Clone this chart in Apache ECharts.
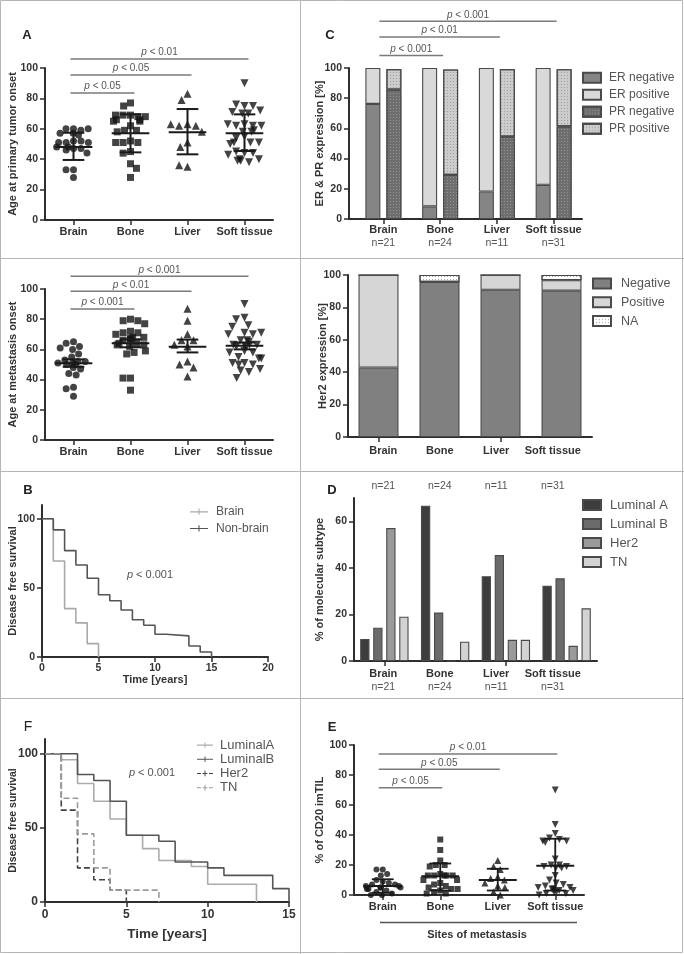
<!DOCTYPE html>
<html><head><meta charset="utf-8">
<script src="https://cdn.jsdelivr.net/npm/echarts@6/dist/echarts.min.js"></script>
<style>html,body{margin:0;padding:0;background:#fff;}#chart{width:684px;height:954px;}</style>
</head><body><div id="chart"></div>
<script>
// ---------- categories / ticks ----------
const sites = ['Brain', 'Bone', 'Liver', 'Soft tissue'];
const siteCounts = ['n=21', 'n=24', 'n=11', 'n=31'];
const pctTicks = [0, 20, 40, 60, 80, 100];
const survTicks = [0, 50, 100];
const subtypeTicks = [0, 20, 40, 60];

// ---------- A (top): age at primary tumor onset ----------
const primaryBrain = [60,60,59,60,57,56,57,52,51,52,51,51,48,47,48,47,46,44,33,33,28];
const primaryBone  = [77,75,69,69,68,68,69,66,65,65,66,62,59,59,58,52,51,51,51,45,44,37,34,28];
const primaryLiver = [83,79,63,62,62,63,58,51,48,35,36];
const primarySoft  = [90,75,76,75,71,70,72,70,63,62,62,63,62,58,59,58,55,54,51,51,50,51,44,45,44,43,40,39,39,40,38];
const primaryMean = [48, 57, 57.7, 57];
const primaryLow  = [39.5, 44.5, 43.2, 45.4];
const primaryHigh = [57.4, 69.5, 73, 69.5];
const primarySigY = [83.6, 95.4, 105.9];
const primarySigP = ['0.05', '0.05', '0.01'];

// ---------- A (bottom): age at metastasis onset ----------
const metBrain = [65,64,62,61,60,57,55,53,52,52,51,51,50,50,48,47,44,43,35,34,29];
const metBone  = [80,79,79,77,72,71,71,70,68,67,67,68,66,64,63,63,62,64,58,57,59,41,41,33];
const metLiver = [87,79,70,66,66,63,62,52,50,48,42];
const metSoft  = [90,81,80,76,75,71,70,71,70,66,66,65,63,63,62,62,63,59,58,58,55,54,54,51,50,51,50,47,46,45,41];
const metMean = [50.8, 64, 61.8, 62.5];
const metLow  = [48.5, 61.4, 58, 60];
const metHigh = [53.4, 66.7, 66.5, 64.6];
const metSigY = [86.8, 98.5, 108.4];
const metSigP = ['0.001', '0.01', '0.001'];

// ---------- C: ER & PR expression ----------
const erNeg = [76.2, 8.3, 18.2, 22.6];
const erPos = [23.8, 91.7, 81.8, 77.4];
const prNeg = [85.7, 29.2, 54.5, 61.3];
const prPos = [13.6, 69.8, 44.8, 37.9];
const erprSigY = [108.3, 120.5, 130.9];
const erprSigP = ['0.001', '0.01', '0.001'];

// ---------- Her2 expression ----------
const her2Neg = [42.9, 95.8, 90.9, 90.3];
const her2Pos = [57.1, 0, 9.1, 6.5];
const her2NA  = [0, 4.2, 0, 3.2];

// ---------- B: disease free survival, brain vs non-brain ----------
const brainT = [0, 1, 2, 3, 4, 5];
const brainS = [100, 69.5, 35, 24.7, 9.7, 0];
const nonBrainT = [0, 1, 2, 3, 4, 5, 6, 7, 8, 9, 10, 11, 13, 14, 15];
const nonBrainS = [100, 92, 77, 66.6, 57, 45, 40.7, 34, 27, 23, 16.5, 15.3, 8, 3.6, 0];

// ---------- D: molecular subtype ----------
const lumA = [9.5, 66.7, 36.4, 32.3];
const lumB = [14.3, 20.8, 45.5, 35.5];
const her2Sub = [57.1, 0, 9.1, 6.5];
const tnSub = [19, 8.3, 9.1, 22.6];

// ---------- F: disease free survival by subtype ----------
const lumAT = [0, 1, 2, 3, 4, 5, 6, 7, 9, 10, 13];
const lumAS = [100, 96, 80, 68, 56, 45, 36, 28, 24, 12, 0];
const lumBT = [0, 2, 3, 4, 5, 7, 8, 10, 11, 14, 15];
const lumBS = [100, 86, 82, 68, 45, 41, 27, 23, 18, 9, 0];
const her2KmT = [0, 1, 2, 3, 4, 5];
const her2KmS = [100, 62, 23, 15, 8, 0];
const tnKmT = [0, 1, 2, 3, 4, 7];
const tnKmS = [100, 70, 46, 23, 8, 0];

// ---------- E: CD20 imTIL ----------
const cd20Brain = [17,17,14,13,10,9,8,7,7,6,6,5,5,5,4,4,3,2,1,0,0];
const cd20Bone  = [37,30,23,20,20,19,14,13,13,13,13,13,10,10,8,7,6,5,4,4,3,2,1,1];
const cd20Liver = [23,19,17,12,11,10,8,6,5,2,0];
const cd20Soft  = [70,47,41,38,37,36,36,35,24,20,20,19,19,18,18,13,10,8,7,6,5,5,4,4,3,3,2,2,1,1,0];
const cd20Mean = [6, 12.5, 10, 19.5];
const cd20Low  = [1.5, 3, 3, 3];
const cd20High = [10.5, 21, 17.5, 37.5];
const cd20SigY = [71.5, 83.8, 94];
const cd20SigP = ['0.05', '0.05', '0.01'];

// ================= styling helpers =================
const FF = '"Liberation Sans", Arial, Helvetica, sans-serif';
const TXT = '#333';
const AX = '#2e2e2e';
const GRAY = '#555';
const axisLineS = {show: true, lineStyle: {color: AX, width: 2}};
const tickS = {show: true, length: 5, lineStyle: {color: AX, width: 1.5}};
const tickLbl = {color: TXT, fontSize: 10.5, fontWeight: 'bold', fontFamily: FF, margin: 7};
const catLbl = {color: TXT, fontSize: 11, fontWeight: 'bold', fontFamily: FF, margin: 6, interval: 0};
const nameStyle = (size) => ({fontWeight: 'bold', fontSize: size, color: TXT, fontFamily: FF});

function catX(gi, extra) {
  return Object.assign({gridIndex: gi, type: 'category', data: sites, axisLine: axisLineS,
    axisTick: Object.assign({}, tickS, {alignWithLabel: true}), axisLabel: catLbl,
    splitLine: {show: false}}, extra || {});
}
function valY(gi, min, max, ticks, name, gap, size, lblExtra) {
  return {gridIndex: gi, type: 'value', min: min, max: max,
    axisLine: axisLineS, axisTick: Object.assign({}, tickS, {customValues: ticks}),
    axisLabel: Object.assign({}, tickLbl, {customValues: ticks}, lblExtra || {}),
    splitLine: {show: false}, name: name, nameLocation: 'middle', nameRotate: 90,
    nameGap: gap, nameMoveOverlap: false, nameTextStyle: nameStyle(size)};
}
function hiddenY(gi) { return {gridIndex: gi, type: 'value', min: 0, max: 100, show: false}; }

function scat(xi, yi, gi, vals, symbol, size, rot) {
  return {type: 'scatter', xAxisIndex: xi, yAxisIndex: yi, silent: true, z: 2,
    data: vals.map(v => [gi, v]), symbol: symbol, symbolSize: size, symbolRotate: rot || 0,
    itemStyle: {color: '#141414'}};
}
function errSeries(xi, yi, means, lows, highs, lw) {
  return {type: 'custom', xAxisIndex: xi, yAxisIndex: yi, silent: true, z: 4,
    encode: {x: 0, y: [1, 2, 3]},
    data: means.map((m, i) => [i, m, lows[i], highs[i]]),
    renderItem: function (params, api) {
      const bw = api.size([1, 0])[0];
      const x = api.value(0);
      const pm = api.coord([x, api.value(1)]), pl = api.coord([x, api.value(2)]), ph = api.coord([x, api.value(3)]);
      const w1 = bw * 0.33, w2 = bw * 0.19;
      const st = {stroke: '#1a1a1a', lineWidth: lw};
      return {type: 'group', children: [
        {type: 'line', shape: {x1: pm[0] - w1, y1: pm[1], x2: pm[0] + w1, y2: pm[1]}, style: st},
        {type: 'line', shape: {x1: pl[0], y1: pl[1], x2: ph[0], y2: ph[1]}, style: st},
        {type: 'line', shape: {x1: pl[0] - w2, y1: pl[1], x2: pl[0] + w2, y2: pl[1]}, style: st},
        {type: 'line', shape: {x1: ph[0] - w2, y1: ph[1], x2: ph[0] + w2, y2: ph[1]}, style: st}
      ]};
    }};
}
function sigSeries(xi, yi, ys, ps, padL, padR) {
  return {type: 'custom', xAxisIndex: xi, yAxisIndex: yi, silent: true, z: 5,
    encode: {x: [0, 1], y: 2},
    data: ys.map((y, i) => [0, i + 1, y]),
    renderItem: function (params, api) {
      const a = api.coord([api.value(0), api.value(2)]);
      const b = api.coord([api.value(1), api.value(2)]);
      const x1 = a[0] - padL, x2 = b[0] + padR;
      return {type: 'group', children: [
        {type: 'line', shape: {x1: x1, y1: a[1], x2: x2, y2: a[1]}, style: {stroke: '#7a7a7a', lineWidth: 1.5}},
        {type: 'text', style: {x: (x1 + x2) / 2, y: a[1] - 1.5, text: '{i|p} < ' + ps[params.dataIndex],
          align: 'center', verticalAlign: 'bottom', fontSize: 10, fontFamily: FF, fill: GRAY,
          rich: {i: {fontStyle: 'italic', fontSize: 10, fontFamily: FF, fill: GRAY}}}}
      ]};
    }};
}
function bar(name, xi, yi, stack, vals, color, width, gap, decal) {
  const s = {type: 'bar', name: name, xAxisIndex: xi, yAxisIndex: yi, silent: true,
    data: vals, barWidth: width, barGap: gap,
    itemStyle: {color: color, borderColor: '#4a4a4a', borderWidth: 1.1}};
  if (stack) s.stack = stack;
  if (decal) s.itemStyle.decal = decal;
  return s;
}
function km(xi, yi, name, ts, ss, color, dashed) {
  return {type: 'line', name: name, xAxisIndex: xi, yAxisIndex: yi, step: 'end', symbol: 'none',
    silent: true, z: 3, color: color, data: ts.map((t, i) => [t, ss[i]]),
    itemStyle: {color: color},
    lineStyle: {color: color, width: 1.6, type: dashed ? [6, 3] : 'solid'}};
}
const dots = (c) => ({symbol: 'rect', symbolSize: 1, dashArrayX: [1, 2], dashArrayY: [1, 2], color: c, rotation: 0});
const solidIcon = 'path://M0,3H20V4.3H0Z M9.4,0H10.6V7H9.4Z';
const dashIcon = 'path://M0,3H5V4.3H0Z M7,3H13V4.3H7Z M15,3H20V4.3H15Z M9.4,0H10.6V7H9.4Z';

const twoLine = (i) => '{b|' + sites[i] + '}\n{n|' + siteCounts[i] + '}';
const twoLineRich = {b: {fontWeight: 'bold', fontSize: 11, color: TXT, fontFamily: FF, lineHeight: 13.5},
                     n: {fontSize: 10.5, color: GRAY, fontFamily: FF, lineHeight: 13.5}};
const legendBase = {orient: 'vertical', padding: 0, selectedMode: false};

const option = {
  animation: false,
  textStyle: {fontFamily: FF},
  grid: [
    {left: 45, top: 68, width: 228, height: 152},      // 0 A primary
    {left: 45, top: 289, width: 228, height: 151},     // 1 A metastasis
    {left: 355, top: 68, width: 227, height: 151},     // 2 C bars
    {left: 348, top: 275, width: 244, height: 162},    // 3 Her2
    {left: 355, top: 275, width: 226, height: 162},    // 4 Her2 labels
    {left: 42, top: 505, width: 226, height: 152},     // 5 B
    {left: 354, top: 498, width: 243, height: 163},    // 6 D
    {left: 355, top: 498, width: 226, height: 163},    // 7 D labels
    {left: 45, top: 739, width: 244, height: 163},     // 8 F
    {left: 354, top: 745, width: 230, height: 150},    // 9 E
    {left: 349, top: 68, width: 233, height: 151}      // 10 C axes
  ],
  xAxis: [
    catX(0, {jitter: 34, jitterOverlap: false, jitterMargin: 0.5}),
    catX(1, {jitter: 34, jitterOverlap: false, jitterMargin: 0.5}),
    {gridIndex: 2, type: 'category', data: sites, axisLine: {show: false},
     axisTick: Object.assign({}, tickS, {alignWithLabel: true}),
     axisLabel: {formatter: (v, i) => twoLine(i), rich: twoLineRich, margin: 4, interval: 0}},
    catX(3, {axisLabel: {show: false}}),
    {gridIndex: 4, type: 'category', data: sites, axisLine: {show: false}, axisTick: {show: false},
     axisLabel: Object.assign({}, catLbl, {margin: 8})},
    {gridIndex: 5, type: 'value', min: 0, max: 20, interval: 5, axisLine: axisLineS, axisTick: tickS,
     axisLabel: Object.assign({}, tickLbl, {margin: 6}), splitLine: {show: false},
     name: 'Time [years]', nameLocation: 'middle', nameGap: 15, nameTextStyle: nameStyle(11)},
    catX(6, {axisLabel: {show: false}}),
    {gridIndex: 7, type: 'category', data: sites, axisLine: {show: false}, axisTick: {show: false},
     axisLabel: {formatter: (v, i) => twoLine(i), rich: twoLineRich, margin: 6, interval: 0}},
    {gridIndex: 7, type: 'category', position: 'top', data: siteCounts, axisLine: {show: false}, axisTick: {show: false},
     axisLabel: {fontSize: 10.5, color: GRAY, fontFamily: FF, margin: 6, interval: 0}},
    {gridIndex: 8, type: 'value', min: 0, max: 15, interval: 5, axisLine: axisLineS, axisTick: tickS,
     axisLabel: Object.assign({}, tickLbl, {fontSize: 12, margin: 7}), splitLine: {show: false},
     name: 'Time [years]', nameLocation: 'middle', nameGap: 25, nameTextStyle: nameStyle(13.5)},
    catX(9, {jitter: 36, jitterOverlap: false, jitterMargin: 0.3,
      name: 'Sites of metastasis', nameLocation: 'middle', nameGap: 34,
      nameTextStyle: Object.assign(nameStyle(11), {padding: [0, 0, 0, 16]})}),
    {gridIndex: 10, type: 'value', min: 0, max: 1, axisLine: axisLineS, axisTick: {show: false},
     axisLabel: {show: false}, splitLine: {show: false}}
  ],
  yAxis: [
    valY(0, 0, 100, pctTicks, 'Age at primary tumor onset', 26.5, 11),
    valY(1, 0, 100, pctTicks, 'Age at metastasis onset', 26.5, 11),
    hiddenY(2),
    valY(3, 0, 100, pctTicks, 'Her2 expression [%]', 19.5, 11),
    hiddenY(4),
    valY(5, 0, 110, survTicks, 'Disease free survival', 23.5, 11),
    valY(6, 0, 70, subtypeTicks, '% of molecular subtype', 28.5, 11),
    hiddenY(7),
    valY(8, 0, 110, survTicks, 'Disease free survival', 26.5, 10.5, {fontSize: 12}),
    valY(9, 0, 100, pctTicks, '% of CD20 imTIL', 28.5, 11),
    valY(10, 0, 100, pctTicks, 'ER & PR expression [%]', 23.5, 11)
  ],
  legend: [
    Object.assign({}, legendBase, {left: 582, top: 71.7, itemWidth: 18, itemHeight: 10, itemGap: 5,
     icon: 'rect', textStyle: {fontSize: 12, color: GRAY, fontFamily: FF, padding: [0, 0, 0, 3]},
     data: ['ER negative', 'ER positive', 'PR negative', 'PR positive']}),
    Object.assign({}, legendBase, {left: 592, top: 277, itemWidth: 18, itemHeight: 10, itemGap: 5.8,
     icon: 'rect', textStyle: {fontSize: 12.5, color: GRAY, fontFamily: FF, padding: [0, 0, 0, 5]},
     data: ['Negative', 'Positive', 'NA']}),
    Object.assign({}, legendBase, {left: 190, top: 505.7, itemWidth: 18, itemHeight: 7, itemGap: 4.7,
     textStyle: {fontSize: 12, color: GRAY, fontFamily: FF, padding: [0, 0, 0, 3]},
     data: [{name: 'Brain', icon: solidIcon}, {name: 'Non-brain', icon: solidIcon}]}),
    Object.assign({}, legendBase, {left: 582, top: 498.5, itemWidth: 18, itemHeight: 10, itemGap: 6,
     icon: 'rect', textStyle: {fontSize: 13, color: GRAY, fontFamily: FF, padding: [0, 0, 0, 4]},
     data: ['Luminal A', 'Luminal B', 'Her2', 'TN']}),
    Object.assign({}, legendBase, {left: 197, top: 738.5, itemWidth: 16, itemHeight: 7, itemGap: 1.2,
     textStyle: {fontSize: 13, color: GRAY, fontFamily: FF, padding: [0, 0, 0, 2]},
     data: [{name: 'LuminalA', icon: solidIcon}, {name: 'LuminalB', icon: solidIcon},
            {name: 'Her2', icon: dashIcon, itemStyle: {color: '#444', borderWidth: 0, decal: 'none'}},
            {name: 'TN', icon: dashIcon, itemStyle: {color: '#9a9a9a', borderWidth: 0, decal: 'none'}}]})
  ],
  series: [
    // A primary
    scat(0, 0, 0, primaryBrain, 'circle', 7),
    scat(0, 0, 1, primaryBone, 'rect', 7),
    scat(0, 0, 2, primaryLiver, 'triangle', 8),
    scat(0, 0, 3, primarySoft, 'triangle', 8, 180),
    errSeries(0, 0, primaryMean, primaryLow, primaryHigh, 2),
    sigSeries(0, 0, primarySigY, primarySigP, 3, 4),
    // A metastasis
    scat(1, 1, 0, metBrain, 'circle', 7),
    scat(1, 1, 1, metBone, 'rect', 7),
    scat(1, 1, 2, metLiver, 'triangle', 8),
    scat(1, 1, 3, metSoft, 'triangle', 8, 180),
    errSeries(1, 1, metMean, metLow, metHigh, 2),
    sigSeries(1, 1, metSigY, metSigP, 3, 4),
    // C
    bar('ER negative', 2, 2, 'ER', erNeg, '#858585', 15, '40%'),
    bar('ER positive', 2, 2, 'ER', erPos, '#d9d9d9', 15, '40%'),
    bar('PR negative', 2, 2, 'PR', prNeg, '#6e6e6e', 15, '40%', dots('rgba(255,255,255,0.28)')),
    bar('PR positive', 2, 2, 'PR', prPos, '#cccccc', 15, '40%', dots('rgba(0,0,0,0.22)')),
    sigSeries(2, 2, erprSigY, erprSigP, 4, 3),
    // Her2
    bar('Negative', 3, 3, 'H', her2Neg, '#808080', 40, '30%'),
    bar('Positive', 3, 3, 'H', her2Pos, '#d6d6d6', 40, '30%'),
    bar('NA', 3, 3, 'H', her2NA, '#ffffff', 40, '30%', dots('rgba(0,0,0,0.35)')),
    // B
    km(5, 5, 'Brain', brainT, brainS, '#a9a9a9', false),
    km(5, 5, 'Non-brain', nonBrainT, nonBrainS, '#555555', false),
    // D
    bar('Luminal A', 6, 6, null, lumA, '#3d3d3d', 9.3, '40%'),
    bar('Luminal B', 6, 6, null, lumB, '#6b6b6b', 9.3, '40%'),
    bar('Her2', 6, 6, null, her2Sub, '#9a9a9a', 9.3, '40%'),
    bar('TN', 6, 6, null, tnSub, '#d3d3d3', 9.3, '40%'),
    // F
    km(9, 8, 'LuminalA', lumAT, lumAS, '#ababab', false),
    km(9, 8, 'LuminalB', lumBT, lumBS, '#555555', false),
    km(9, 8, 'Her2', her2KmT, her2KmS, '#444444', true),
    km(9, 8, 'TN', tnKmT, tnKmS, '#9a9a9a', true),
    // E
    scat(10, 9, 0, cd20Brain, 'circle', 6),
    scat(10, 9, 1, cd20Bone, 'rect', 6),
    scat(10, 9, 2, cd20Liver, 'triangle', 7),
    scat(10, 9, 3, cd20Soft, 'triangle', 7, 180),
    errSeries(10, 9, cd20Mean, cd20Low, cd20High, 1.8),
    sigSeries(10, 9, cd20SigY, cd20SigP, 4, 2)
  ],
  graphic: [
    {type: 'rect', shape: {x: 0.5, y: 0.5, width: 682, height: 952}, style: {fill: 'none', stroke: '#b5b5b5', lineWidth: 1}, silent: true},
    {type: 'line', shape: {x1: 300.5, y1: 0, x2: 300.5, y2: 954}, style: {stroke: '#b5b5b5', lineWidth: 1}, silent: true},
    {type: 'line', shape: {x1: 0, y1: 258.5, x2: 684, y2: 258.5}, style: {stroke: '#b5b5b5', lineWidth: 1}, silent: true},
    {type: 'line', shape: {x1: 0, y1: 471.5, x2: 684, y2: 471.5}, style: {stroke: '#b5b5b5', lineWidth: 1}, silent: true},
    {type: 'line', shape: {x1: 0, y1: 698.5, x2: 684, y2: 698.5}, style: {stroke: '#b5b5b5', lineWidth: 1}, silent: true},
    {type: 'line', shape: {x1: 380, y1: 922.5, x2: 577, y2: 922.5}, style: {stroke: '#555', lineWidth: 1.5}, silent: true},
    {type: 'text', x: 27, y: 35, style: {text: 'A', font: 'bold 13px ' + FF, fill: '#222', textAlign: 'center', textVerticalAlign: 'middle'}},
    {type: 'text', x: 330, y: 35, style: {text: 'C', font: 'bold 13px ' + FF, fill: '#222', textAlign: 'center', textVerticalAlign: 'middle'}},
    {type: 'text', x: 28, y: 490, style: {text: 'B', font: 'bold 13px ' + FF, fill: '#222', textAlign: 'center', textVerticalAlign: 'middle'}},
    {type: 'text', x: 332, y: 490, style: {text: 'D', font: 'bold 13px ' + FF, fill: '#222', textAlign: 'center', textVerticalAlign: 'middle'}},
    {type: 'text', x: 28, y: 727, style: {text: 'F', font: '14px ' + FF, fill: '#222', textAlign: 'center', textVerticalAlign: 'middle'}},
    {type: 'text', x: 332, y: 727, style: {text: 'E', font: 'bold 13px ' + FF, fill: '#222', textAlign: 'center', textVerticalAlign: 'middle'}},
    {type: 'text', x: 150, y: 575, style: {text: '{i|p} < 0.001', font: '11px ' + FF, fill: GRAY, textAlign: 'center', textVerticalAlign: 'middle',
      rich: {i: {fontStyle: 'italic', fontSize: 11, fontFamily: FF, fill: GRAY}}}},
    {type: 'text', x: 152, y: 773, style: {text: '{i|p} < 0.001', font: '11px ' + FF, fill: GRAY, textAlign: 'center', textVerticalAlign: 'middle',
      rich: {i: {fontStyle: 'italic', fontSize: 11, fontFamily: FF, fill: GRAY}}}}
  ]
};

const chart = echarts.init(document.getElementById('chart'), null, {renderer: 'canvas'});
chart.setOption(option);
</script>
</body></html>
